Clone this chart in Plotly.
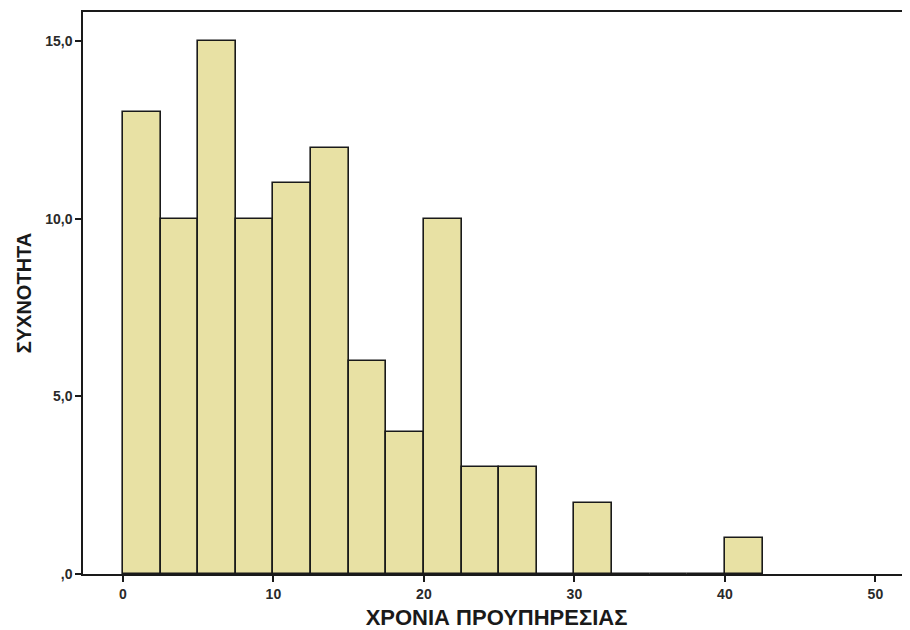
import plotly.graph_objects as go

bin_starts = [0, 2.5, 5, 7.5, 10, 12.5, 15, 17.5, 20, 22.5, 25, 27.5, 30, 32.5, 35, 37.5, 40]
counts = [13, 10, 15, 10, 11, 12, 6, 4, 10, 3, 3, 0, 2, 0, 0, 0, 1]
bin_width = 2.5
y_tickvals = [0, 5, 10, 15]
y_ticktext = [",0", "5,0", "10,0", "15,0"]
x_tickvals = [0, 10, 20, 30, 40, 50]
x_ticktext = ["0", "10", "20", "30", "40", "50"]

fig = go.Figure()
fig.add_trace(go.Bar(
    x=bin_starts, y=counts, width=bin_width, offset=0,
    marker=dict(color="#E8E1A4", line=dict(color="#1a1a1a", width=1.6)),
    hoverinfo="x+y",
))

font_family = "Liberation Sans, Arial, sans-serif"
fig.update_layout(
    width=902, height=622,
    margin=dict(l=75, r=0, t=4, b=56),
    plot_bgcolor="white", paper_bgcolor="white",
    showlegend=False,
    bargap=0,
    font=dict(family=font_family, color="#1a1a1a"),
    xaxis=dict(
        range=[-2.65, 52.3],
        tickvals=x_tickvals, ticktext=x_ticktext,
        ticks="outside", ticklen=6, tickwidth=1.5, tickcolor="#1a1a1a",
        showline=True, linecolor="#1a1a1a", linewidth=1.5, mirror=True,
        showgrid=False, zeroline=False,
        tickfont=dict(size=14, family=font_family, weight="bold", color="#2a2a2a"),
        title=dict(text="<b>ΧΡΟΝΙΑ ΠΡΟΥΠΗΡΕΣΙΑΣ</b>", font=dict(size=22, family=font_family), standoff=9),
    ),
    yaxis=dict(
        range=[0, 15.82],
        tickvals=y_tickvals, ticktext=y_ticktext,
        ticks="outside", ticklen=6, tickwidth=1.5, tickcolor="#1a1a1a",
        showline=True, linecolor="#1a1a1a", linewidth=1.5,
        showgrid=False, zeroline=False,
        tickfont=dict(size=14, family=font_family, weight="bold", color="#2a2a2a"),
        title=dict(text="<b>ΣΥΧΝΟΤΗΤΑ</b>", font=dict(size=20, family=font_family), standoff=8),
    ),
)

fig.write_html("out.html")
